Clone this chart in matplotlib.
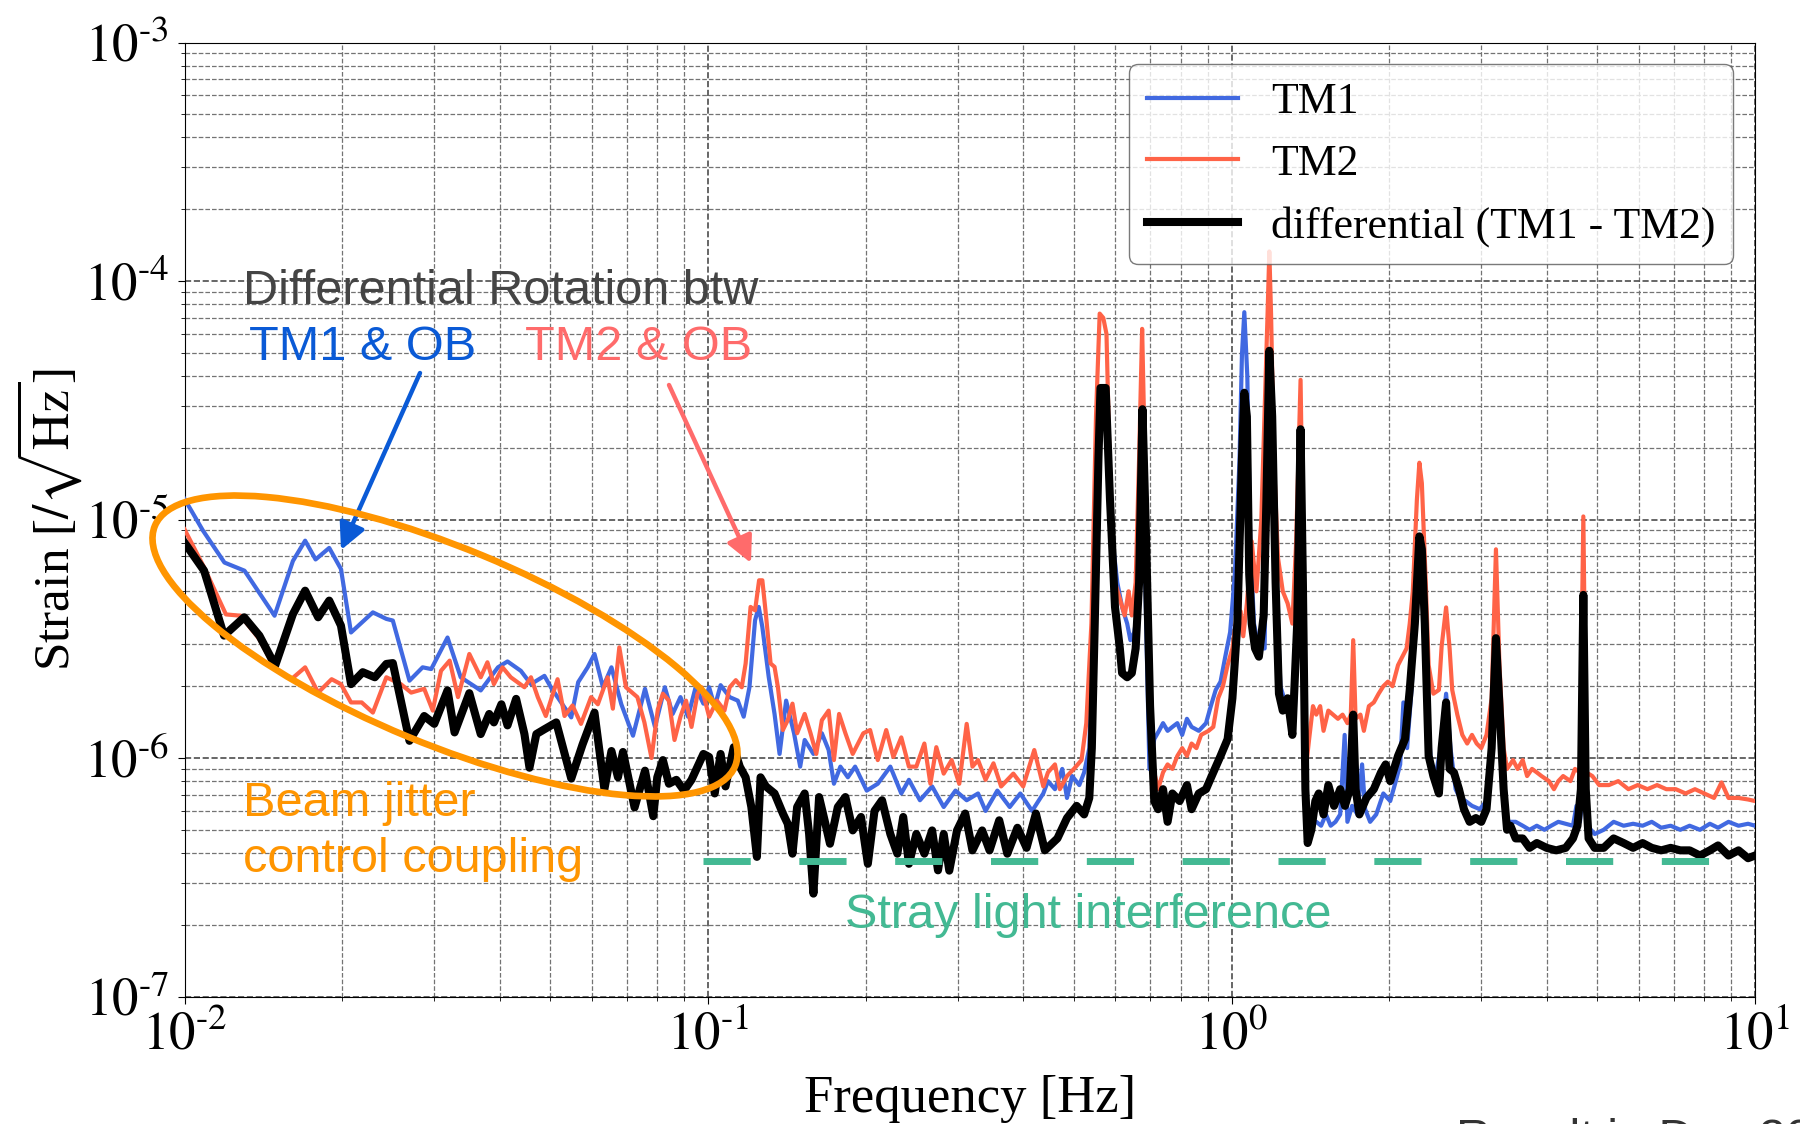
import numpy as np
import matplotlib
matplotlib.use("Agg")
import matplotlib.pyplot as plt
from matplotlib.patches import Ellipse
from matplotlib.ticker import NullFormatter, FuncFormatter

# strain spectra, values in units of 1e-6 /sqrt(Hz)
tm1_f = [0.0100, 0.01084, 0.01192, 0.01302, 0.01486, 0.01611, 0.0170, 0.0178, 0.0189, 0.0199,
         0.0208, 0.0229, 0.0243, 0.0250, 0.0269, 0.0285, 0.0296, 0.0318, 0.0337, 0.0368,
         0.0397, 0.0414, 0.0439, 0.0459, 0.0487, 0.0501, 0.0548, 0.0565, 0.0589, 0.0607,
         0.0630, 0.0654, 0.0683, 0.0719, 0.0758, 0.0792,
         0.0827, 0.0856, 0.0886, 0.0916, 0.0947, 0.098, 0.1005, 0.103, 0.1057, 0.110,
         0.114, 0.117, 0.120, 0.123, 0.125, 0.127, 0.1306, 0.134, 0.137, 0.141,
         0.146, 0.150, 0.153, 0.159, 0.165, 0.170, 0.174, 0.179, 0.185, 0.191,
         0.201, 0.211, 0.223, 0.234, 0.242, 0.254, 0.268, 0.282, 0.297, 0.312,
         0.328, 0.339, 0.357, 0.377, 0.395, 0.416, 0.437,
         0.446, 0.46, 0.475, 0.485, 0.496, 0.512, 0.523, 0.535, 0.545, 0.557,
         0.565, 0.575, 0.584, 0.593, 0.605, 0.618, 0.632, 0.641, 0.652, 0.663,
         0.675, 0.687, 0.697, 0.712, 0.727, 0.74, 0.755, 0.771, 0.788, 0.805,
         0.822, 0.839, 0.866, 0.894, 0.913, 0.933, 0.953, 0.973, 0.994, 1.015,
         1.036, 1.047, 1.058, 1.072, 1.086, 1.104, 1.128, 1.157, 1.172, 1.181,
         1.196, 1.214, 1.24, 1.267, 1.294, 1.32, 1.34, 1.355, 1.369, 1.387,
         1.415, 1.452, 1.483, 1.515, 1.547, 1.58, 1.613, 1.645, 1.665, 1.7,
         1.74, 1.776, 1.8, 1.84, 1.89, 1.95, 2.01, 2.06, 2.1, 2.13,
         2.165, 2.21, 2.26, 2.29, 2.32, 2.36, 2.41, 2.46, 2.51, 2.57,
         2.62, 2.68, 2.73, 2.8, 2.88, 2.98, 3.07, 3.14, 3.2, 3.25,
         3.31, 3.38, 3.49, 3.6, 3.71, 3.83, 3.96, 4.08, 4.21, 4.35,
         4.49, 4.56, 4.63, 4.7, 4.78, 4.94, 5.14, 5.37, 5.61, 5.85,
         6.1, 6.35, 6.62, 6.9, 7.2, 7.5, 7.85, 8.2, 8.5, 8.9,
         9.3, 9.7, 10.0]
tm1_v = [12.2, 9.0, 6.6, 6.1, 3.95, 6.7, 8.15, 6.8, 7.6, 6.2,
         3.36, 4.08, 3.83, 3.77, 2.11, 2.40, 2.36, 3.2, 2.18, 1.92,
         2.40, 2.54, 2.32, 2.04, 2.21, 1.98, 1.48, 2.08, 2.40, 2.73,
         1.98, 2.40, 1.68, 1.24, 1.95, 1.35,
         1.98, 1.53, 1.80, 1.49, 1.98, 1.69, 1.98, 1.64, 2.02, 1.80,
         1.74, 1.49, 1.98, 3.78, 4.3, 3.54, 2.19, 1.53, 1.04, 1.74,
         1.27, 0.92, 1.19, 1.04, 1.27, 1.08, 0.78, 0.92, 0.83, 0.92,
         0.73, 0.78, 0.92, 0.71, 0.81, 0.665, 0.76, 0.623, 0.73, 0.665,
         0.71, 0.60, 0.73, 0.623, 0.71, 0.60, 0.71,
         0.80, 0.74, 0.9, 0.68, 0.84, 0.77, 0.87, 1.1, 3.66, 22,
         35.6, 34, 18, 8.1, 5.45, 4.3, 3.66, 3.12, 3.37, 4.3,
         27, 3.66, 0.9, 1.2, 1.3, 1.4, 1.3, 1.35, 1.4, 1.25,
         1.46, 1.35, 1.3, 1.4, 1.65, 1.93, 2.09, 2.66, 3.37, 5.9,
         18, 49, 74, 40, 8.1, 3.66, 2.88, 2.88, 33, 49,
         27, 6.65, 2.0, 1.71, 1.65, 1.46, 5.45, 22, 3.66, 0.68,
         0.54, 0.54, 0.52, 0.58, 0.52, 0.54, 0.58, 1.25, 0.54, 0.63,
         0.58, 0.94, 0.61, 0.54, 0.58, 0.71, 0.66, 0.8, 0.94, 1.71,
         1.1, 2.0, 5.45, 7.5, 5.45, 1.65, 0.9, 0.87, 1.1, 1.86,
         1.1, 0.74, 0.68, 0.66, 0.63, 0.61, 0.66, 1.1, 2.88, 1.35,
         0.63, 0.54, 0.54, 0.52, 0.50, 0.52, 0.50, 0.52, 0.54, 0.53,
         0.52, 0.63, 0.54, 0.74, 0.52, 0.48, 0.50, 0.54, 0.52, 0.53,
         0.52, 0.54, 0.51, 0.52, 0.50, 0.52, 0.50, 0.53, 0.51, 0.54,
         0.52, 0.53, 0.52]

tm2_f = [0.0100, 0.0109, 0.0120, 0.0128, 0.0139, 0.0149, 0.0160, 0.0170, 0.0180, 0.0191,
         0.0199, 0.0208, 0.0218, 0.0229, 0.0243, 0.0259, 0.0271, 0.0287, 0.0298, 0.0309,
         0.0321, 0.0333, 0.0350, 0.0368, 0.0379, 0.0390, 0.0405, 0.0420, 0.0446, 0.0459,
         0.0473, 0.0490, 0.0516, 0.0532, 0.0551, 0.0572, 0.0598, 0.0616, 0.0643, 0.0658,
         0.0677, 0.0697, 0.0733, 0.0756, 0.0780, 0.0802,
         0.082, 0.0842, 0.0863, 0.0886, 0.0908, 0.093, 0.0955, 0.0972, 0.1005, 0.104,
         0.1075, 0.110, 0.113, 0.116, 0.118, 0.1206, 0.123, 0.1252, 0.127, 0.129,
         0.1317, 0.134, 0.136, 0.139, 0.142, 0.145, 0.148, 0.153, 0.157, 0.161,
         0.165, 0.170, 0.174, 0.178, 0.183, 0.189, 0.198, 0.204, 0.211, 0.219,
         0.226, 0.234, 0.242, 0.250, 0.259, 0.266, 0.273, 0.282, 0.292, 0.302,
         0.312, 0.320, 0.328, 0.339, 0.351, 0.363, 0.383, 0.4, 0.42, 0.437,
         0.446, 0.46, 0.47, 0.485, 0.5, 0.517, 0.528, 0.54, 0.551, 0.56,
         0.569, 0.577, 0.586, 0.599, 0.612, 0.625, 0.636, 0.645, 0.656, 0.666,
         0.675, 0.68, 0.687, 0.699, 0.712, 0.724, 0.74, 0.755, 0.771, 0.788,
         0.805, 0.822, 0.839, 0.857, 0.875, 0.904, 0.923, 0.943, 0.963, 0.983,
         1.004, 1.026, 1.041, 1.053, 1.07, 1.093, 1.116, 1.14, 1.156, 1.172,
         1.181, 1.19, 1.205, 1.227, 1.253, 1.28, 1.307, 1.329, 1.355, 1.369,
         1.387, 1.407, 1.431, 1.452, 1.477, 1.499, 1.531, 1.563, 1.597, 1.63,
         1.665, 1.69, 1.708, 1.726, 1.763, 1.79, 1.83, 1.87, 1.91, 1.95,
         1.99, 2.03, 2.08, 2.12, 2.16, 2.19, 2.22, 2.26, 2.285, 2.31,
         2.35, 2.38, 2.43, 2.49, 2.52, 2.57, 2.61, 2.64, 2.7, 2.76,
         2.82, 2.88, 2.94, 3.0, 3.07, 3.14, 3.2, 3.25, 3.31, 3.36,
         3.45, 3.52, 3.6, 3.67, 3.75, 3.83, 3.91, 4.04, 4.13, 4.21,
         4.3, 4.44, 4.53, 4.63, 4.7, 4.76, 4.89, 5.04, 5.26, 5.48,
         5.73, 5.97, 6.23, 6.5, 6.77, 7.06, 7.37, 7.68, 8.0, 8.35,
         8.63, 8.9, 9.3, 9.7, 10.0]
tm2_v = [9.1, 6.3, 4.0, 3.95, 3.15, 2.36, 2.14, 2.40, 1.88, 2.14,
         2.04, 1.71, 1.71, 1.55, 2.18, 2.04, 1.88, 1.95, 1.58, 2.32,
         2.56, 1.80, 2.73, 2.18, 2.52, 2.04, 2.40, 2.18, 1.98, 2.18,
         1.80, 1.50, 2.14, 1.50, 1.66, 1.39, 1.80, 1.68, 2.18, 1.61,
         2.91, 1.98, 1.80, 1.41, 1.0, 1.60,
         1.86, 1.74, 1.19, 1.49, 1.74, 1.35, 1.86, 1.98, 1.49, 1.74,
         1.58, 1.98, 2.12, 1.98, 2.49, 4.3, 4.16, 5.56, 5.56, 4.0,
         2.49, 2.41, 1.98, 1.31, 1.44, 1.69, 1.27, 1.53, 1.27, 1.04,
         1.44, 1.58, 0.98, 1.53, 1.27, 1.04, 1.27, 1.31, 0.98, 1.31,
         1.01, 1.22, 0.92, 0.92, 1.15, 0.78, 1.11, 0.86, 0.98, 0.78,
         1.39, 0.92, 0.98, 0.81, 0.95, 0.76, 0.86, 0.76, 1.08, 0.76,
         0.87, 0.94, 0.74, 0.84, 0.9, 0.98, 1.4, 3.66, 27, 73,
         70, 60, 14.8, 5.45, 4.65, 3.96, 5.0, 3.96, 5.45, 18,
         63, 29, 5.45, 1.65, 0.87, 0.74, 0.87, 0.94, 0.9, 1.02,
         1.1, 1.02, 1.15, 1.1, 1.25, 1.3, 1.35, 1.78, 2.0, 2.45,
         2.88, 4.12, 4.12, 3.24, 4.45, 8.1, 5.0, 9.9, 27, 73,
         133, 73, 18, 6.9, 5.0, 4.45, 3.66, 8.1, 38.5, 8.1,
         0.9, 1.2, 1.65, 1.52, 1.65, 1.3, 1.58, 1.52, 1.46, 1.52,
         1.4, 1.52, 3.12, 1.46, 1.52, 1.3, 1.65, 1.71, 1.86, 2.0,
         2.09, 2.0, 2.45, 2.66, 2.88, 3.66, 5.0, 12.1, 17.3, 14.2,
         5.45, 2.45, 1.86, 1.93, 2.94, 4.28, 2.88, 1.93, 1.52, 1.25,
         1.15, 1.25, 1.15, 1.1, 1.25, 1.78, 7.5, 2.45, 1.1, 0.9,
         0.98, 0.9, 0.98, 0.84, 0.9, 0.87, 0.84, 0.8, 0.74, 0.8,
         0.84, 0.8, 0.9, 0.87, 10.3, 0.87, 0.84, 0.77, 0.77, 0.8,
         0.74, 0.77, 0.74, 0.77, 0.74, 0.74, 0.71, 0.74, 0.71, 0.68,
         0.79, 0.68, 0.68, 0.67, 0.66]

diff_f = [0.0100, 0.0109, 0.0119, 0.0130, 0.0139, 0.0149, 0.0161, 0.0170, 0.0180, 0.0189,
          0.0199, 0.0208, 0.0219, 0.0231, 0.0243, 0.0250, 0.0269, 0.0287, 0.0300, 0.0318,
          0.0328, 0.0350, 0.0368, 0.0382, 0.0390, 0.0403, 0.0414, 0.0430, 0.0446, 0.0456,
          0.0470, 0.0487, 0.0513, 0.0548, 0.0576, 0.0607, 0.0634, 0.0654, 0.0673, 0.0688,
          0.0724, 0.0758, 0.0786,
          0.080, 0.082, 0.0842, 0.0870, 0.090, 0.093, 0.0955, 0.098, 0.1005, 0.103,
          0.1057, 0.108, 0.112, 0.115, 0.118, 0.121, 0.124, 0.126, 0.129, 0.134,
          0.139, 0.142, 0.145, 0.148, 0.153, 0.156, 0.159, 0.163, 0.167, 0.171,
          0.177, 0.183, 0.189, 0.196, 0.202, 0.208, 0.215, 0.223, 0.230, 0.236,
          0.242, 0.250, 0.259, 0.268, 0.275, 0.282, 0.289, 0.299, 0.31, 0.320,
          0.334, 0.345, 0.36, 0.373, 0.39, 0.406, 0.423, 0.44,
          0.465, 0.485, 0.506, 0.523, 0.535, 0.541, 0.548, 0.557, 0.562, 0.575,
          0.586, 0.599, 0.612, 0.618, 0.632, 0.645, 0.656, 0.666, 0.676, 0.687,
          0.699, 0.712, 0.724, 0.74, 0.755, 0.771, 0.796, 0.822, 0.839, 0.866,
          0.894, 0.923, 0.953, 0.983, 1.004, 1.026, 1.047, 1.058, 1.07, 1.081,
          1.093, 1.109, 1.128, 1.152, 1.166, 1.181, 1.196, 1.214, 1.232, 1.253,
          1.280, 1.307, 1.335, 1.355, 1.369, 1.384, 1.398, 1.421, 1.446, 1.468,
          1.499, 1.531, 1.570, 1.613, 1.647, 1.683, 1.708, 1.726, 1.755, 1.81,
          1.87, 1.93, 1.97, 2.01, 2.08, 2.145, 2.19, 2.24, 2.285, 2.31,
          2.34, 2.38, 2.43, 2.49, 2.52, 2.57, 2.61, 2.66, 2.72, 2.78,
          2.85, 2.93, 3.0, 3.07, 3.14, 3.2, 3.25, 3.31, 3.36, 3.41,
          3.49, 3.6, 3.71, 3.83, 4.0, 4.17, 4.35, 4.49, 4.58, 4.65,
          4.7, 4.75, 4.81, 4.94, 5.14, 5.37, 5.61, 5.85, 6.1, 6.35,
          6.62, 6.9, 7.2, 7.5, 7.85, 8.2, 8.5, 8.9, 9.3, 9.7,
          10.0]
diff_v = [8.0, 6.1, 3.26, 3.89, 3.26, 2.44, 4.0, 5.03, 3.89, 4.57,
          3.59, 2.04, 2.29, 2.18, 2.48, 2.50, 1.18, 1.50, 1.39, 1.92,
          1.28, 1.87, 1.26, 1.53, 1.41, 1.68, 1.37, 1.77, 1.26, 0.91,
          1.26, 1.32, 1.41, 0.82, 1.14, 1.55, 0.74, 1.07, 0.83, 1.06,
          0.62, 0.885, 0.57,
          0.83, 0.98, 0.78, 0.81, 0.73, 0.81, 0.92, 1.04, 1.01, 0.71,
          1.04, 0.76, 1.11, 0.92, 0.83, 0.623, 0.385, 0.83, 0.76, 0.71,
          0.585, 0.53, 0.397, 0.623, 0.71, 0.48, 0.27, 0.686, 0.548, 0.437,
          0.623, 0.686, 0.497, 0.566, 0.36, 0.60, 0.665, 0.48, 0.397, 0.566,
          0.36, 0.48, 0.397, 0.497, 0.338, 0.48, 0.337, 0.497, 0.585, 0.41,
          0.497, 0.41, 0.548, 0.397, 0.51, 0.42, 0.585, 0.41,
          0.46, 0.56, 0.63, 0.58, 0.68, 1.1, 3.66, 18, 35.6, 35.6,
          12.1, 4.3, 2.88, 2.27, 2.18, 2.27, 2.88, 5.45, 29, 8.1,
          1.65, 0.66, 0.61, 0.74, 0.54, 0.71, 0.66, 0.77, 0.61, 0.71,
          0.74, 0.87, 1.02, 1.2, 1.78, 3.66, 18, 34, 27, 5.9,
          3.66, 2.88, 2.66, 3.96, 12.1, 51, 27, 5.45, 1.86, 1.58,
          1.78, 1.25, 3.66, 23.9, 5.45, 0.74, 0.44, 0.50, 0.66, 0.71,
          0.58, 0.77, 0.63, 0.74, 0.63, 0.74, 1.52, 0.74, 0.58, 0.68,
          0.74, 0.87, 0.94, 0.80, 1.02, 1.20, 1.93, 3.66, 8.5, 7.5,
          3.66, 1.02, 0.84, 0.71, 1.1, 1.71, 0.9, 0.87, 0.74, 0.61,
          0.54, 0.56, 0.54, 0.61, 1.1, 3.18, 1.65, 0.74, 0.50, 0.52,
          0.46, 0.46, 0.42, 0.44, 0.42, 0.41, 0.42, 0.46, 0.52, 0.74,
          4.83, 0.74, 0.46, 0.42, 0.42, 0.46, 0.44, 0.42, 0.44, 0.42,
          0.41, 0.42, 0.41, 0.41, 0.39, 0.41, 0.43, 0.39, 0.41, 0.38,
          0.39]

stray_f = [0.0978, 10.0]
stray_v = [0.37, 0.37]

UNIT = 1e-6
W, H = 1800, 1124

plt.rcParams['font.family'] = ['Liberation Serif', 'DejaVu Serif']
plt.rcParams['mathtext.fontset'] = 'stix'

fig = plt.figure(figsize=(W / 100, H / 100), dpi=100)
ax = fig.add_axes([184.5 / W, 1 - 996.5 / H, (1755 - 184.5) / W, (996.5 - 42.5) / H])

ax.plot(tm1_f, np.array(tm1_v) * UNIT, color='#4169E1', lw=3.0, label='TM1', zorder=3)
ax.plot(tm2_f, np.array(tm2_v) * UNIT, color='#FF6347', lw=3.0, label='TM2', zorder=4)
ax.plot(diff_f, np.array(diff_v) * UNIT, color='black', lw=5.8,
        label='differential (TM1 - TM2)', zorder=5)
ax.plot(stray_f, np.array(stray_v) * UNIT, color='#43B993', lw=5,
        ls=(0, (6.8, 7.0)), solid_capstyle='butt', zorder=6)


def decade_label(v, pos):
    e = int(round(np.log10(v)))
    if e < 0:
        return r'$10^{\text{-}%d}$' % (-e)
    return r'$10^{%d}$' % e


ax.set_xscale('log')
ax.set_yscale('log')
ax.set_xlim(1e-2, 10)
ax.set_ylim(1e-7, 1e-3)
ax.xaxis.set_major_formatter(FuncFormatter(decade_label))
ax.yaxis.set_major_formatter(FuncFormatter(decade_label))
ax.xaxis.set_minor_formatter(NullFormatter())
ax.yaxis.set_minor_formatter(NullFormatter())
ax.tick_params(which='major', labelsize=38, length=5, pad=6)
ax.tick_params(which='minor', length=3)
ax.grid(True, which='major', ls='--', color='0.3', lw=1.2)
ax.grid(True, which='minor', ls='--', color='0.45', lw=0.9)

ax.set_xlabel('Frequency [Hz]', fontsize=38)
ax.set_ylabel(r'Strain [$/\sqrt{\mathrm{Hz}}$]', fontsize=37)
ax.xaxis.set_label_coords(0.5, -0.082)
ax.yaxis.set_label_coords(-0.064, 0.5)

leg = ax.legend(loc='upper right', fontsize=31.5, handlelength=2.1, handletextpad=0.75,
                labelspacing=0.5, borderpad=0.4, fancybox=True, edgecolor='0.35')
leg.get_frame().set_linewidth(1.0)

# annotations (positions in figure pixels, y measured from top)
sans = ['Liberation Sans', 'DejaVu Sans']


def fpx(x, y):
    return x / W, 1 - y / H


fig.text(*fpx(243, 304), 'Differential Rotation btw', fontsize=35, color='#444444',
         family=sans, va='baseline', zorder=10)
fig.text(*fpx(249, 360), 'TM1 & OB', fontsize=35, color='#0A5AD6',
         family=sans, va='baseline', zorder=10)
fig.text(*fpx(525, 360), 'TM2 & OB', fontsize=35, color='#FF6B6B',
         family=sans, va='baseline', zorder=10)
fig.text(*fpx(243, 816), 'Beam jitter', fontsize=35, color='#FF9500',
         family=sans, va='baseline', zorder=10)
fig.text(*fpx(243, 872), 'control coupling', fontsize=35, color='#FF9500',
         family=sans, va='baseline', zorder=10)
fig.text(*fpx(845, 928), 'Stray light interference', fontsize=35, color='#43B993',
         family=sans, va='baseline', zorder=10)
fig.text(*fpx(1456, 1118), 'Result in Dec 2019', fontsize=35, color='#333333',
         family=sans, va='top', zorder=10)

ax.annotate('', xy=(341, H - 550), xytext=(420, H - 373), xycoords='figure pixels',
            textcoords='figure pixels',
            arrowprops=dict(arrowstyle='-|>', color='#0A5AD6', lw=3.2, mutation_scale=40,
                            shrinkA=0, shrinkB=0), zorder=10)
ax.annotate('', xy=(751, H - 563), xytext=(669, H - 385), xycoords='figure pixels',
            textcoords='figure pixels',
            arrowprops=dict(arrowstyle='-|>', color='#FF6B6B', lw=3.2, mutation_scale=40,
                            shrinkA=0, shrinkB=0), zorder=10)

ell = Ellipse((445 / 100, (H - 646) / 100), width=2 * 314 / 100, height=2 * 98 / 100,
              angle=-22.5, transform=fig.dpi_scale_trans, fill=False,
              edgecolor='#FF9500', lw=4.8, zorder=10)
fig.add_artist(ell)

fig.savefig('out.png', dpi=100)
